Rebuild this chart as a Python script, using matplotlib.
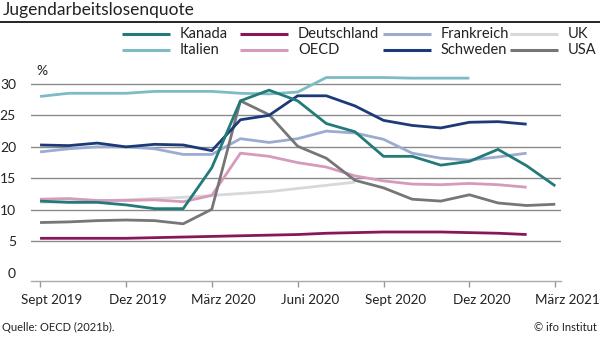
import matplotlib
matplotlib.use("Agg")
import matplotlib.pyplot as plt
import matplotlib.transforms as mtransforms
import numpy as np

plt.rcParams['font.family'] = ['Lato', 'DejaVu Sans']

# monthly values, Sept 2019 ... Mar 2021
tick_labels = ['Sept 2019', 'Dez 2019', 'März 2020', 'Juni 2020', 'Sept 2020', 'Dez 2020', 'März 2021']

kanada = [11.4, 11.2, 11.2, 10.8, 10.2, 10.2, 16.7, 27.3, 29.0, 27.3, 23.7, 22.4,
          18.5, 18.5, 17.1, 17.7, 19.6, 17.0, 13.8]
italien = [28.0, 28.5, 28.5, 28.5, 28.8, 28.8, 28.8, 28.5, 28.4, 28.7, 31.0, 31.0,
           31.0, 30.9, 30.9, 30.9]
deutschland = [5.5, 5.5, 5.5, 5.5, 5.6, 5.7, 5.8, 5.9, 6.0, 6.1, 6.3, 6.4,
               6.5, 6.5, 6.5, 6.4, 6.3, 6.1]
oecd = [11.7, 11.8, 11.5, 11.5, 11.6, 11.3, 12.3, 19.0, 18.5, 17.5, 16.8, 15.4,
        14.6, 14.1, 14.0, 14.2, 14.0, 13.6]
frankreich = [19.2, 19.7, 20.0, 20.0, 19.7, 18.8, 18.8, 21.3, 20.7, 21.3, 22.5, 22.2,
              21.2, 19.0, 18.2, 17.9, 18.4, 19.0]
schweden = [20.3, 20.2, 20.6, 20.0, 20.4, 20.3, 19.4, 24.3, 25.0, 28.1, 28.1, 26.5,
            24.2, 23.4, 23.0, 23.9, 24.0, 23.6]
uk = [11.2, 11.3, 11.4, 11.6, 11.8, 12.0, 12.3, 12.6, 12.9, 13.4, 13.9, 14.4]
usa = [8.0, 8.1, 8.3, 8.4, 8.3, 7.8, 10.1, 27.3, 25.1, 20.1, 18.2, 14.7,
       13.5, 11.7, 11.4, 12.4, 11.1, 10.7, 10.9]

series = {
    'Kanada': (kanada, '#237a78'),
    'Italien': (italien, '#7dbcc4'),
    'Deutschland': (deutschland, '#86185a'),
    'OECD': (oecd, '#d59bbb'),
    'Frankreich': (frankreich, '#9bacd0'),
    'Schweden': (schweden, '#1d3a78'),
    'UK': (uk, '#d8d8d8'),
    'USA': (usa, '#767676'),
}

fig = plt.figure(figsize=(6, 3.38), dpi=100)
ax = fig.add_axes([0.052, 0.170, 0.883, 0.610])

draw_order = ['UK', 'Deutschland', 'OECD', 'Frankreich', 'Italien', 'USA', 'Schweden', 'Kanada']
for name, (vals, col) in series.items():
    x = np.arange(len(vals))
    ax.plot(x, vals, color=col, lw=2, zorder=3 + draw_order.index(name),
            solid_joinstyle='round', solid_capstyle='butt')

ax.set_xlim(-0.31, 18.2)
ax.set_ylim(-1.2, 31.5)

for v in [5, 10, 15, 20, 25, 30]:
    ax.axhline(v, color='#8a8a8a', lw=1, zorder=1)

ax.set_yticks([0, 5, 10, 15, 20, 25, 30])
ax.tick_params(axis='y', length=0, pad=11, labelsize=10, colors='#222222')
ax.set_xticks(np.arange(0, 19, 3))
ax.set_xticklabels(tick_labels)
ax.tick_params(axis='x', length=4, width=1, direction='out', pad=6,
               labelsize=9.6, colors='#999999', labelcolor='#222222')
# labels sit a little right of their ticks in the original
shift = mtransforms.ScaledTranslation(12 / 100, 0, fig.dpi_scale_trans)
for lab in ax.get_xticklabels():
    lab.set_transform(lab.get_transform() + shift)

for s in ['top', 'right', 'left']:
    ax.spines[s].set_visible(False)
ax.spines['bottom'].set_color('#aaaaaa')
ax.spines['bottom'].set_linewidth(1)

ax.text(0.05, 32.0, '%', fontsize=10, color='#222222', ha='center', va='center',
        clip_on=False)

# legend, 4 columns x 2 rows
legend_rows = [['Kanada', 'Deutschland', 'Frankreich', 'UK'],
               ['Italien', 'OECD', 'Schweden', 'USA']]
col_x = [122, 240, 383, 510]
row_y = [34, 50]
for r, names in enumerate(legend_rows):
    for c, name in enumerate(names):
        yf = 1 - row_y[r] / 338
        x0 = col_x[c] / 600
        x1 = (col_x[c] + 48) / 600
        fig.add_artist(plt.Line2D([x0, x1], [yf, yf], color=series[name][1], lw=2.2,
                                  solid_capstyle='butt'))
        fig.text(x1 + 10 / 600, yf, name, fontsize=10.5, ha='left', va='center',
                 color='#222222')

fig.text(0.004, 0.995, 'Jugendarbeitslosenquote', fontsize=12.5, ha='left', va='top',
         color='#222222')
fig.add_artist(plt.Line2D([0, 1], [0.935, 0.935], color='black', lw=1.2))
fig.text(0.004, 0.015, 'Quelle: OECD (2021b).', fontsize=8, ha='left', va='bottom',
         color='#222222')
fig.text(0.995, 0.015, '© ifo Institut', fontsize=8, ha='right', va='bottom',
         color='#222222')

fig.savefig('out.png', dpi=100)
